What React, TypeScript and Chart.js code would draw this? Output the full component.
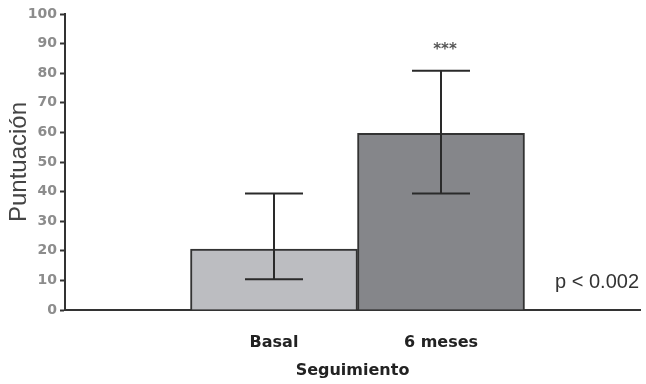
import React, { useEffect, useRef } from "react";
import { Chart, registerables } from "chart.js";

Chart.register(...registerables);

const categories = ["Basal", "6 meses"];
const categoryPositions = [1, 2];
const meanValues = [20.6, 59.7];
const errorLow = [10.4, 39.4];
const errorHigh = [39.4, 80.8];
const significance = ["", "***"];
const barColors = ["#bcbdc1", "#85868a"];
const yTicks = [0, 10, 20, 30, 40, 50, 60, 70, 80, 90, 100];
const pValueText = "p < 0.002";

const overlayPlugin = {
  id: "overlay",
  afterDatasetsDraw(chart: any) {
    const { ctx, chartArea } = chart;
    const yScale = chart.scales.y;
    const meta = chart.getDatasetMeta(0);
    ctx.save();
    ctx.strokeStyle = "#2a2a2a";
    ctx.lineWidth = 2;
    meta.data.forEach((bar: any, i: number) => {
      const x = bar.x;
      const yLo = yScale.getPixelForValue(errorLow[i]);
      const yHi = yScale.getPixelForValue(errorHigh[i]);
      const half = 29;
      ctx.beginPath();
      ctx.moveTo(x, yLo);
      ctx.lineTo(x, yHi);
      ctx.moveTo(x - half, yHi);
      ctx.lineTo(x + half, yHi);
      ctx.moveTo(x - half, yLo);
      ctx.lineTo(x + half, yLo);
      ctx.stroke();
      if (significance[i]) {
        ctx.fillStyle = "#555";
        ctx.font = "bold 15px 'DejaVu Sans'";
        ctx.textAlign = "center";
        ctx.textBaseline = "middle";
        ctx.fillText(significance[i], x + 4, yHi - 21);
      }
    });
    ctx.fillStyle = "#333";
    ctx.font = "20px 'Liberation Sans'";
    ctx.textAlign = "right";
    ctx.textBaseline = "middle";
    ctx.fillText(pValueText, chartArea.right - 1, chartArea.bottom - 28);
    ctx.restore();
  },
};

export default function App() {
  const ref = useRef<HTMLCanvasElement>(null);
  useEffect(() => {
    document.body.style.margin = "0";
    const chart = new Chart(ref.current as HTMLCanvasElement, {
      type: "bar",
      data: {
        datasets: [
          {
            data: categoryPositions.map((x, i) => ({ x, y: meanValues[i] })),
            backgroundColor: barColors,
            borderColor: "#333",
            borderWidth: 2,
            categoryPercentage: 1,
            barPercentage: 1,
          },
        ],
      },
      options: {
        responsive: false,
        animation: false,
        devicePixelRatio: 1,
        layout: { padding: { top: 14, right: 6, left: 0, bottom: 0 } },
        plugins: { legend: { display: false }, tooltip: { enabled: false } },
        scales: {
          x: {
            type: "linear",
            offset: false,
            min: -0.2515,
            max: 3.1916,
            afterBuildTicks: (scale: any) => {
              scale.ticks = categoryPositions.map((v) => ({ value: v }));
            },
            afterFit: (scale: any) => {
              scale.height = 74;
            },
            grid: { display: false },
            border: { display: true, color: "#333", width: 2 },
            ticks: {
              autoSkip: false,
              maxRotation: 0,
              padding: 15,
              color: "#222",
              font: { family: "'DejaVu Sans'", size: 16, weight: "bold" },
              callback: (_v: any, index: number) => categories[index],
            },
            title: {
              display: true,
              text: "Seguimiento",
              color: "#222",
              font: { family: "'DejaVu Sans'", size: 16, weight: "bold" },
              padding: { top: 0, bottom: 4 },
            },
          },
          y: {
            min: 0,
            max: 100,
            afterBuildTicks: (scale: any) => {
              scale.ticks = yTicks.map((v) => ({ value: v }));
            },
            afterFit: (scale: any) => {
              scale.width = 65;
            },
            grid: {
              display: true,
              drawOnChartArea: false,
              drawTicks: true,
              tickLength: 5,
              tickColor: "#333",
              tickWidth: 2,
            },
            border: { display: true, color: "#333", width: 2 },
            ticks: {
              padding: 3,
              color: "#8c8c8c",
              font: { family: "'DejaVu Sans'", size: 14, weight: "bold" },
            },
            title: {
              display: true,
              text: "Puntuación",
              color: "#444",
              font: { family: "'Liberation Sans'", size: 24 },
              padding: { top: 5, bottom: 0 },
            },
          },
        },
      },
      plugins: [overlayPlugin],
    });
    return () => chart.destroy();
  }, []);
  return (
    <div style={{ width: 646, height: 384 }}>
      <canvas ref={ref} width={646} height={384} />
    </div>
  );
}
